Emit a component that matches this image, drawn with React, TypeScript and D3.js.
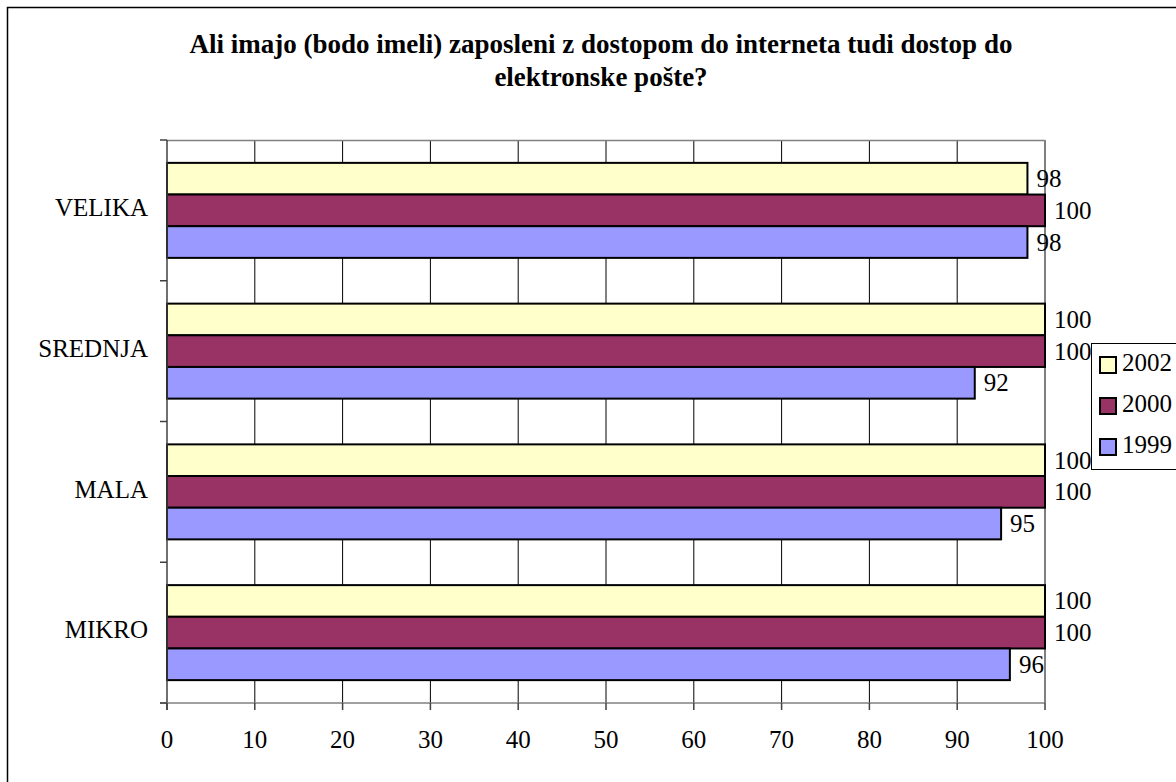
import React from 'react';
import * as d3 from 'd3';

// categories top to bottom, series in drawing order inside each group
const categories = ['VELIKA', 'SREDNJA', 'MALA', 'MIKRO'];
const seriesNames = ['2002', '2000', '1999'];
const seriesColors = ['#FFFFCC', '#993366', '#9999FF'];
const values2002 = [98, 100, 100, 100];
const values2000 = [100, 100, 100, 100];
const values1999 = [98, 92, 95, 96];
const xTicks = [0, 10, 20, 30, 40, 50, 60, 70, 80, 90, 100];
const titleLines = [
  'Ali imajo (bodo imeli) zaposleni z dostopom do interneta tudi dostop do',
  'elektronske pošte?'
];

const W = 1176;
const H = 782;
const plot = { left: 167, right: 1045, top: 140, bottom: 703 };
const font = '"Liberation Serif", "Times New Roman", serif';
const fs = 25;

const App: React.FC = () => {
  const series = [values2002, values2000, values1999];

  const x = d3.scaleLinear().domain([0, 100]).range([plot.left, plot.right]);
  const y = d3.scaleBand<string>()
    .domain(categories)
    .range([plot.top, plot.bottom])
    .paddingInner(0.325)
    .paddingOuter(0.1625);
  const ySub = d3.scaleBand<string>()
    .domain(seriesNames)
    .range([0, y.bandwidth()]);

  const step = y.step();
  const catTicks = d3.range(categories.length + 1).map(i => plot.top + i * step);

  return (
    <svg width={W} height={H} style={{ position: 'absolute', left: 0, top: 0 }} fontFamily={font}>
      <rect x={0} y={0} width={W} height={H} fill="#fff" />
      {/* chart area border, cut by the window on the right and bottom */}
      <rect x={7.5} y={7.5} width={W + 20} height={H + 20} fill="none" stroke="#000" strokeWidth={1.5} />

      {titleLines.map((t, i) => (
        <text key={i} x={601} y={47 + i * 33} textAnchor="middle" dominantBaseline="middle"
          fontSize={27} fontWeight="bold">{t}</text>
      ))}

      {/* vertical gridlines */}
      {xTicks.slice(1, -1).map(t => (
        <line key={t} x1={x(t)} x2={x(t)} y1={plot.top} y2={plot.bottom} stroke="#000" strokeWidth={1} />
      ))}

      {/* plot frame */}
      <line x1={plot.left} x2={plot.right} y1={plot.top + 0.5} y2={plot.top + 0.5} stroke="#808080" strokeWidth={1.5} />
      <line x1={plot.right} x2={plot.right} y1={plot.top} y2={plot.bottom} stroke="#808080" strokeWidth={2} />

      {/* bars */}
      {categories.map((c, ci) => (
        <g key={c} transform={`translate(0,${y(c)})`}>
          {seriesNames.map((s, si) => (
            <g key={s}>
              <rect x={x(0)} y={ySub(s)} width={x(series[si][ci]) - x(0)} height={ySub.bandwidth()}
                fill={seriesColors[si]} stroke="#000" strokeWidth={2} />
              <text x={x(series[si][ci]) + 9} y={(ySub(s) || 0) + ySub.bandwidth() / 2}
                dominantBaseline="central" fontSize={fs}>{series[si][ci]}</text>
            </g>
          ))}
        </g>
      ))}

      {/* axes */}
      <line x1={plot.left} x2={plot.left} y1={plot.top} y2={plot.bottom + 7} stroke="#404040" strokeWidth={1.5} />
      <line x1={plot.left - 7} x2={plot.right} y1={plot.bottom} y2={plot.bottom} stroke="#808080" strokeWidth={1.5} />
      {catTicks.map((t, i) => (
        <line key={i} x1={plot.left - 7} x2={plot.left} y1={t} y2={t} stroke="#404040" strokeWidth={1.5} />
      ))}
      {xTicks.map(t => (
        <g key={t}>
          <line x1={x(t)} x2={x(t)} y1={plot.bottom} y2={plot.bottom + 7} stroke="#404040" strokeWidth={1.5} />
          <text x={x(t)} y={742} textAnchor="middle" dominantBaseline="middle" fontSize={fs}>{t}</text>
        </g>
      ))}
      {categories.map(c => (
        <text key={c} x={plot.left - 19} y={(y(c) || 0) + y.bandwidth() / 2} textAnchor="end"
          dominantBaseline="middle" fontSize={fs}>{c}</text>
      ))}

      {/* legend */}
      <rect x={1091.5} y={343.5} width={120} height={126} fill="#fff" stroke="#000" strokeWidth={1} />
      {seriesNames.map((s, i) => (
        <g key={s} transform={`translate(1100,${365 + i * 41})`}>
          <rect x={0} y={-8} width={16} height={16} fill={seriesColors[i]} stroke="#000" strokeWidth={2} />
          <text x={22} y={0} dominantBaseline="middle" fontSize={fs}>{s}</text>
        </g>
      ))}
    </svg>
  );
};

export default App;
